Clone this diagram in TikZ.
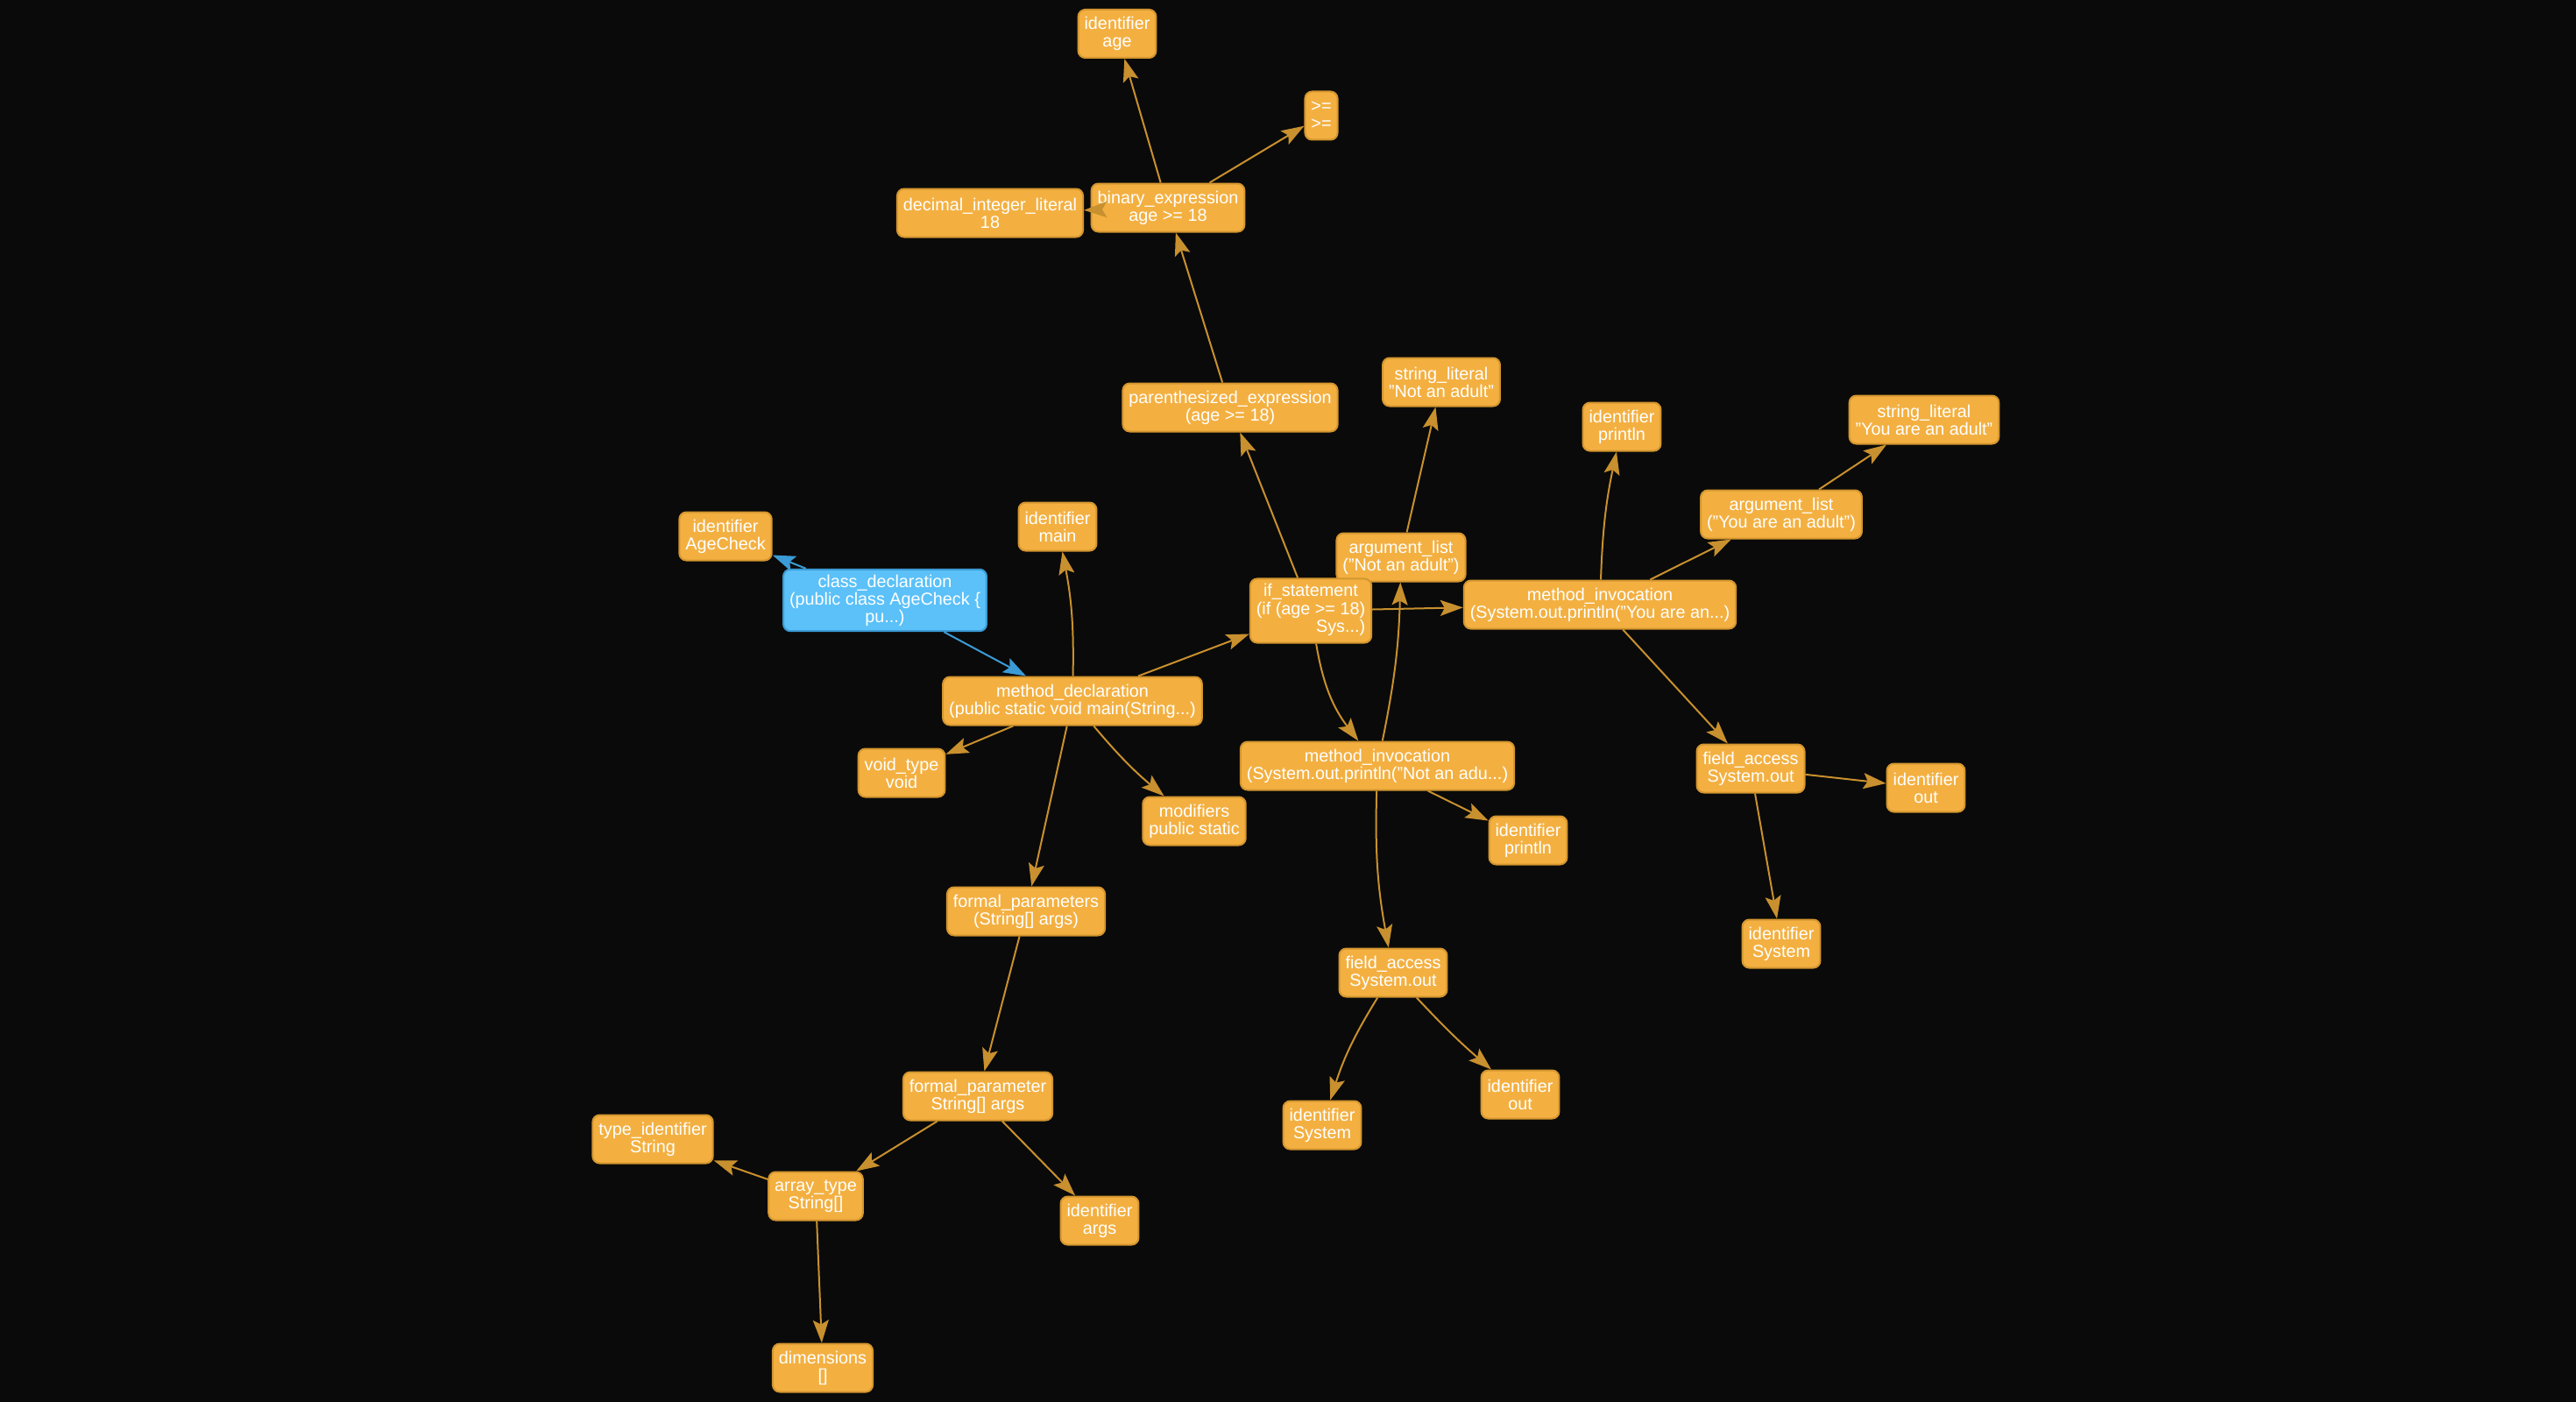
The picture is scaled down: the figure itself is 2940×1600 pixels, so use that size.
\documentclass[tikz,border=0pt]{standalone}
\usepackage{fontspec}
\setmainfont{Liberation Sans}
\usetikzlibrary{arrows.meta}
\definecolor{bg}{HTML}{0A0A0A}
\definecolor{ofill}{HTML}{F3B041}
\definecolor{oline}{HTML}{D4962F}
\definecolor{oedge}{HTML}{C8902E}
\definecolor{bfill}{HTML}{5BC1F8}
\definecolor{bline}{HTML}{3B9BD6}
\begin{document}
\begin{tikzpicture}[x=1pt,y=-1pt,
 nd/.style={draw=oline, fill=ofill, line width=2pt, rounded corners=8pt, text=white,
   font=\fontsize{19.8}{20}\selectfont, align=center, inner xsep=7pt, inner ysep=6pt, minimum height=55pt},
 bnd/.style={nd, draw=bline, fill=bfill},
 ed/.style={draw=oedge, line width=2pt, -{Stealth[length=26pt,width=18pt,inset=5pt]}},
 bed/.style={ed, draw=bline},
]
\fill[bg] (0,0) rectangle (2940,1600);
\useasboundingbox (0,0) rectangle (2940,1600);

\node[nd] (age) at (1275,38.5) {identifier\\age};
\node[nd] (ge) at (1508,132) {>=\\>=};
\node[nd] (bin) at (1333,237) {binary\_expression\\age >= 18};
\node[nd] (dec) at (1130,243) {decimal\_integer\_literal\\18};
\node[nd] (par) at (1404,465) {parenthesized\_expression\\(age >= 18)};
\node[nd] (sl1) at (1645,436) {string\_literal\\"Not an adult"};
\node[nd] (pr1) at (1851,487) {identifier\\println};
\node[nd] (sl2) at (2196,479) {string\_literal\\"You are an adult"};
\node[nd] (al2) at (2033,587) {argument\_list\\("You are an adult")};
\node[nd] (al1) at (1599,636) {argument\_list\\("Not an adult")};
\node[nd] (ifs) at (1496,697) {\begin{tabular}{@{}c@{}}if\_statement\\(if (age >= 18)\\\multicolumn{1}{@{}r@{}}{Sys...)}\end{tabular}};
\node[nd] (mi2) at (1826,690) {method\_invocation\\(System.out.println("You are an...)};
\node[nd] (agec) at (828,612) {identifier\\AgeCheck};
\node[bnd] (cls) at (1010,685) {class\_declaration\\(public class AgeCheck \{\\pu...)};
\node[nd] (mainid) at (1207,601) {identifier\\main};
\node[nd] (md) at (1224,800) {method\_declaration\\(public static void main(String...)};
\node[nd] (vt) at (1029,882) {void\_type\\void};
\node[nd] (mod) at (1363,937) {modifiers\\public static};
\node[nd] (mi1) at (1572,874) {method\_invocation\\(System.out.println("Not an adu...)};
\node[nd] (pr2) at (1744,959) {identifier\\println};
\node[nd] (fps) at (1171,1040) {formal\_parameters\\(String{[]} args)};
\node[nd] (fa1) at (1590,1110) {field\_access\\System.out};
\node[nd] (fp) at (1116,1251) {formal\_parameter\\String{[]} args};
\node[nd] (sys1) at (1509,1284) {identifier\\System};
\node[nd] (out1) at (1735,1249) {identifier\\out};
\node[nd] (ti) at (745,1300) {type\_identifier\\String};
\node[nd] (at) at (931,1365) {array\_type\\String{[]}};
\node[nd] (args) at (1255,1393) {identifier\\args};
\node[nd] (dim) at (939,1561) {dimensions\\{[]}};
\node[nd] (fa2) at (1998,877) {field\_access\\System.out};
\node[nd] (out2) at (2198,899) {identifier\\out};
\node[nd] (sys2) at (2033,1077) {identifier\\System};

% edges
\draw[bed] (cls) -- (agec);
\draw[bed] (cls) -- (md);
\draw[ed] (md) to[bend right=6] (mainid);
\draw[ed] (md) -- (ifs);
\draw[ed] (md) -- (vt);
\draw[ed] (md) to[bend right=5] (mod);
\draw[ed] (md) -- (fps);
\draw[ed] (fps) -- (fp);
\draw[ed] (fp) -- (at);
\draw[ed] (fp) -- (args);
\draw[ed] (at) -- (ti);
\draw[ed] (at) -- (dim);
\draw[ed] (ifs) -- (par);
\draw[ed] (par) -- (bin);
\draw[ed] (bin) -- (age);
\draw[ed] (bin) -- (ge);
\draw[ed] (bin) -- (dec);
\draw[ed] (ifs) -- (mi2);
\draw[ed] (ifs) to[bend right=14] (mi1);
\draw[ed] (mi1) to[bend right=5] (al1);
\draw[ed] (al1) -- (sl1);
\draw[ed] (mi1) -- (pr2);
\draw[ed] (mi1) to[bend right=6] (fa1);
\draw[ed] (fa1) to[bend right=7] (sys1);
\draw[ed] (fa1) to[bend right=3] (out1);
\draw[ed] (mi2) to[bend left=5] (pr1);
\draw[ed] (mi2) -- (al2);
\draw[ed] (al2) -- (sl2);
\draw[ed] (mi2) -- (fa2);
\draw[ed] (fa2) -- (out2);
\draw[ed] (fa2) -- (sys2);
\end{tikzpicture}
\end{document}
